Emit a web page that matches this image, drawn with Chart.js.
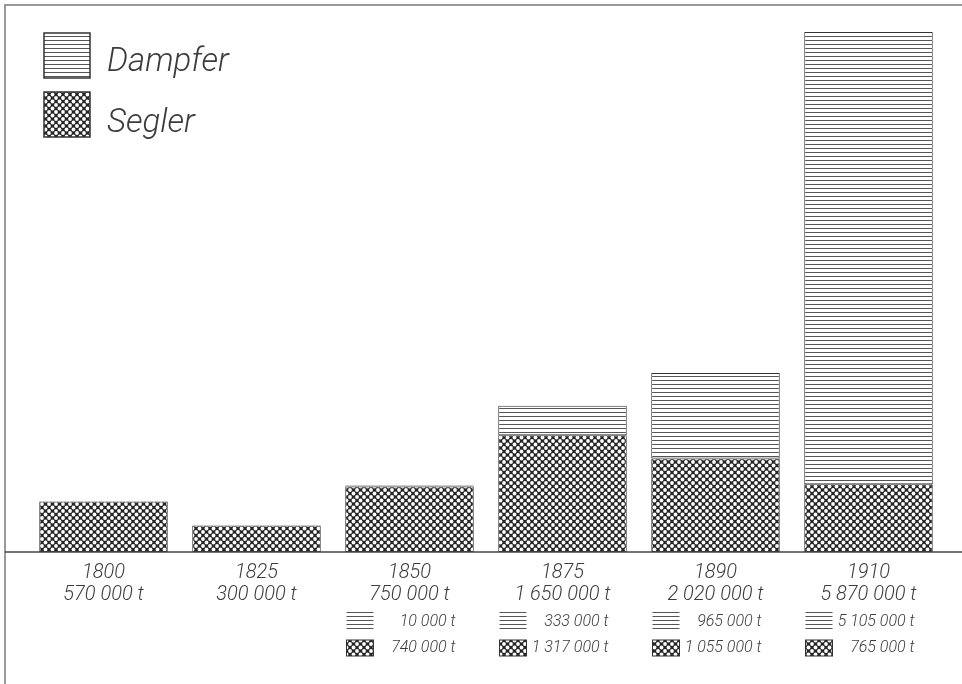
<!DOCTYPE html>
<html>
<head>
<meta charset="utf-8">
<script src="https://cdn.jsdelivr.net/npm/chart.js@4.4.1/dist/chart.umd.min.js"></script>
<style>
  body { margin: 0; background: #fff; }
  canvas { display: block; }
</style>
</head>
<body>
<canvas id="chart" width="962" height="684"></canvas>
<script>
// Jahre und Tonnage (t)
var years = ['1800', '1825', '1850', '1875', '1890', '1910'];
var segler = [570000, 300000, 740000, 1317000, 1055000, 765000];
var dampfer = [0, 0, 10000, 333000, 965000, 5105000];

var ink = '#333';
var textColor = '#3c3c3c';
var fontFamily = 'Roboto, "DejaVu Sans", sans-serif';

function fmt(n) {
  return String(n).replace(/\B(?=(\d{3})+(?!\d))/g, ' ') + ' t';
}

// Kreuzschraffur (Segler)
function crossPattern(ctx) {
  var c = document.createElement('canvas');
  c.width = 7; c.height = 7;
  var p = c.getContext('2d');
  p.fillStyle = '#262626';
  p.fillRect(0, 0, 7, 7);
  p.fillStyle = '#fff';
  [[0, 0], [7, 0], [0, 7], [7, 7], [3.5, 3.5]].forEach(function(d) {
    p.beginPath();
    p.arc(d[0], d[1], 1.9, 0, Math.PI * 2);
    p.fill();
  });
  return ctx.createPattern(c, 'repeat');
}

// waagerechte Linien (Dampfer)
function linePattern(ctx) {
  var c = document.createElement('canvas');
  c.width = 8; c.height = 4;
  var p = c.getContext('2d');
  p.fillStyle = '#fff';
  p.fillRect(0, 0, 8, 4);
  p.fillStyle = '#555';
  p.fillRect(0, 0, 8, 1);
  return ctx.createPattern(c, 'repeat');
}

var ctx = document.getElementById('chart').getContext('2d');
var cross = crossPattern(ctx);
var lines = linePattern(ctx);

var decor = {
  id: 'decor',
  afterDraw: function(chart) {
    var c = chart.ctx;
    var xs = chart.scales.x;
    var base = chart.chartArea.bottom;
    c.save();

    // Rahmen
    c.strokeStyle = '#999';
    c.lineWidth = 2;
    c.beginPath();
    c.moveTo(5, 684);
    c.lineTo(5, 5);
    c.lineTo(962, 5);
    c.stroke();

    // Grundlinie
    c.strokeStyle = '#444';
    c.lineWidth = 1.5;
    c.beginPath();
    c.moveTo(5, base);
    c.lineTo(962, base);
    c.stroke();

    // Legende
    c.lineWidth = 1.5;
    c.strokeStyle = ink;
    c.fillStyle = lines;
    c.fillRect(44, 33, 46, 45);
    c.strokeRect(44, 33, 46, 45);
    c.fillStyle = cross;
    c.fillRect(44, 92, 46, 45);
    c.strokeRect(44, 92, 46, 45);
    c.fillStyle = textColor;
    c.font = 'italic 300 33px ' + fontFamily;
    c.textBaseline = 'middle';
    c.fillText('Dampfer', 107, 63);
    c.fillText('Segler', 107, 124);

    // Aufteilung unter den Balken
    c.font = 'italic 300 16px ' + fontFamily;
    c.lineWidth = 1;
    years.forEach(function(y, i) {
      if (!dampfer[i]) return;
      var cx = xs.getPixelForValue(i);
      c.fillStyle = lines;
      c.fillRect(cx - 63, 611, 27, 19);
      c.fillStyle = cross;
      c.fillRect(cx - 63, 640, 27, 16);
      c.strokeRect(cx - 63, 640, 27, 16);
      c.fillStyle = textColor;
      c.textAlign = 'right';
      c.fillText(fmt(dampfer[i]), cx + 46, 622);
      c.fillText(fmt(segler[i]), cx + 46, 648);
    });
    c.restore();
  }
};

new Chart(ctx, {
  type: 'bar',
  data: {
    labels: years,
    datasets: [
      {
        label: 'Segler',
        data: segler,
        backgroundColor: cross,
        borderColor: ink,
        borderWidth: 1,
        borderSkipped: false
      },
      {
        label: 'Dampfer',
        data: dampfer,
        backgroundColor: lines,
        borderColor: ink,
        borderWidth: 1,
        borderSkipped: false
      }
    ]
  },
  options: {
    responsive: false,
    animation: false,
    layout: { padding: { left: 27, right: 17, top: 32, bottom: 0 } },
    datasets: { bar: { barPercentage: 0.84, categoryPercentage: 1 } },
    plugins: {
      legend: { display: false },
      tooltip: { enabled: false }
    },
    scales: {
      x: {
        stacked: true,
        grid: { display: false },
        border: { display: false },
        afterFit: function(s) { s.height = 132; },
        ticks: {
          padding: 2,
          color: textColor,
          font: { family: fontFamily, size: 20, style: 'italic', weight: 300, lineHeight: 1.1 },
          callback: function(v, i) {
            return [years[i], fmt(segler[i] + dampfer[i])];
          }
        }
      },
      y: {
        stacked: true,
        display: false,
        min: 0,
        max: 5870000
      }
    }
  },
  plugins: [decor]
});
</script>
</body>
</html>
